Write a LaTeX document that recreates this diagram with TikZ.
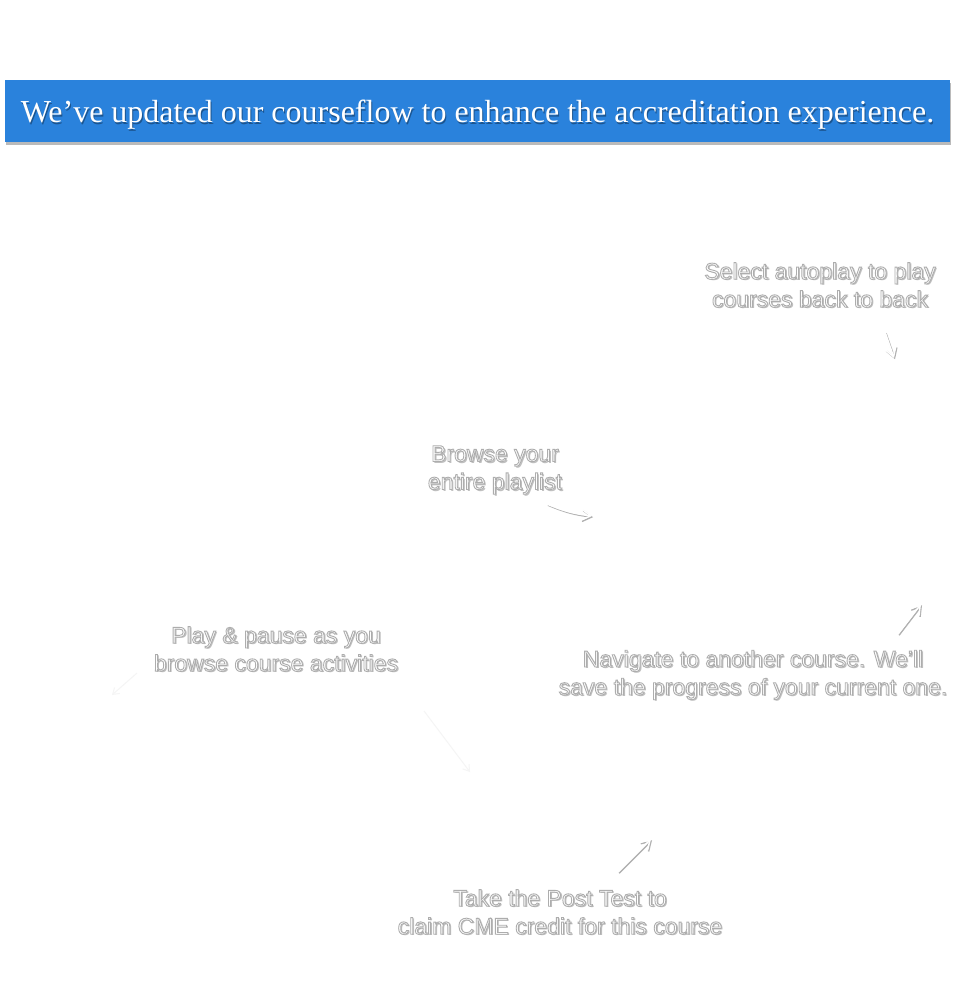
\documentclass[tikz,border=0pt]{standalone}
\usepackage{fontspec}
\setmainfont{Liberation Serif}
\newfontfamily\handfont{Liberation Sans}
\usetikzlibrary{positioning,shadows,arrows.meta}

\definecolor{bannerblue}{HTML}{2A82DC}
\definecolor{notegray}{HTML}{B0B0B0}

% white letters with a grey rim (fill and stroke)
\newcommand\rimmed[1]{\special{pdf:literal direct 2 Tr 0.9 w 0.68 0.68 0.68 RG}#1\special{pdf:literal direct 0 Tr}}

\tikzset{
  banner/.style={fill=bannerblue, minimum width=945pt, minimum height=62pt,
    inner sep=0pt,
    drop shadow={shadow xshift=1pt, shadow yshift=-3pt, fill=black!45, opacity=0.6}},
  title/.style={text=white, inner sep=0pt, font=\fontsize{32}{34}\selectfont},
  titleshade/.style={title, text=black, opacity=0.35},
  note/.style={text=white, align=center, inner sep=0pt,
    font=\handfont\fontsize{23}{28}\selectfont},
  noteshade/.style={note, text=notegray!80},
  hint/.style={white, line width=1.5pt, line cap=round,
    -{Straight Barb[length=9pt,width=11pt]},
    preaction={draw=notegray, line width=1.5pt,
      transform canvas={shift={(1pt,-1.2pt)}}}},
  faint/.style={black!4, line width=1pt, -{Straight Barb[length=6pt,width=8pt]}}
}

\begin{document}
\begin{tikzpicture}[x=1pt,y=-1pt]
  \useasboundingbox[fill=white] (0,0) rectangle (960,1000);

  % banner
  \node[banner] (head) at (477.5,111) {};
  \node[titleshade] at ([shift={(1,5.5)}]head.center) {We’ve updated our courseflow to enhance the accreditation experience.};
  \node[title] (headtext) at ([shift={(0,4)}]head.center) {We’ve updated our courseflow to enhance the accreditation experience.};

  % shadows of the notes
  \node[noteshade] at (821.5,286.5) {Select autoplay to play\\courses back to back};
  \node[noteshade] at (496.5,471.5) {Browse your\\entire playlist};
  \node[noteshade] at (277.5,650.5) {Play \& pause as you\\browse course activities};
  \node[noteshade] at (754.5,676.5) {Navigate to another course. We’ll\\save the progress of your current one.};
  \node[noteshade] at (561.5,913.5) {Take the Post Test to\\claim CME credit for this course};

  % notes
  \node[note] (autoplay) at (820,285) {\rimmed{Select autoplay to play}\\\rimmed{courses back to back}};
  \node[note] (playlist) at (495,470) {\rimmed{Browse your}\\\rimmed{entire playlist}};
  \node[note] (playpause) at (276,649) {\rimmed{Play \& pause as you}\\\rimmed{browse course activities}};
  \node[note] (navigate) at (753,675) {\rimmed{Navigate to another course. We’ll}\\\rimmed{save the progress of your current one.}};
  \node[note] (posttest) at (560,912) {\rimmed{Take the Post Test to}\\\rimmed{claim CME credit for this course}};

  % arrow ends
  \coordinate (autoplayA) at (885,332);
  \coordinate (autoplayB) at (894,358);
  \coordinate (playlistA) at (547,504);
  \coordinate (playlistB) at (592,516);
  \coordinate (navigateA) at (898,634);
  \coordinate (navigateB) at (921,604);
  \coordinate (posttestA) at (618,872);
  \coordinate (posttestB) at (651,839);
  \coordinate (playpauseA) at (137,673);
  \coordinate (playpauseB) at (112,695);
  \coordinate (centerA) at (424,711);
  \coordinate (centerB) at (470,772);

  \draw[hint] (autoplayA) -- (autoplayB);
  \draw[hint] (playlistA) to[bend right=8] (playlistB);
  \draw[hint] (navigateA) -- (navigateB);
  \draw[hint] (posttestA) -- (posttestB);
  \draw[faint] (playpauseA) -- (playpauseB);
  \draw[faint] (centerA) -- (centerB);
\end{tikzpicture}
\end{document}
